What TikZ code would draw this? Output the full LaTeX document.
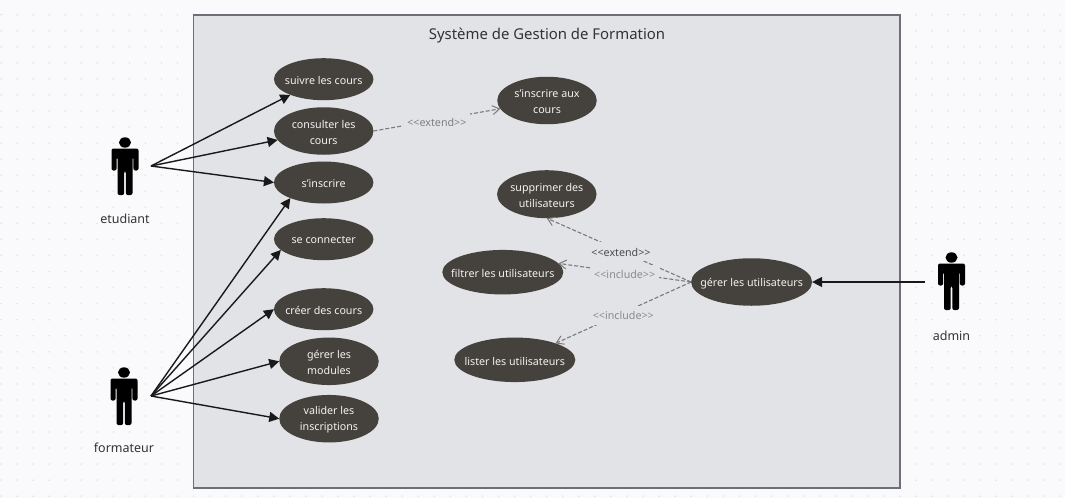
\documentclass[tikz,border=0pt]{standalone}
\usepackage{fontspec}
\setmainfont{Noto Sans}
\usetikzlibrary{shapes.geometric,arrows.meta}
\definecolor{pagebg}{HTML}{FAFAFD}
\definecolor{dotc}{HTML}{E6E6EA}
\definecolor{sysbg}{HTML}{E2E3E6}
\definecolor{sysline}{HTML}{6E6E78}
\definecolor{usecase}{HTML}{45413C}
\definecolor{dashc}{HTML}{7A7A7A}
\definecolor{inkc}{HTML}{333333}
\tikzset{
  x=1pt,y=-1pt,
  uc/.style={ellipse,fill=usecase,inner sep=0pt,outer sep=0pt},
  uctext/.style={text=white!95!black,font=\fontsize{10.7}{16}\selectfont,align=center,inner sep=0pt,yshift=-1.3pt},
  actorlabel/.style={font=\fontsize{12.5}{15}\selectfont,text=inkc},
  assoc/.style={draw=black!90,line width=1.4pt,-{Triangle[length=10pt,width=10pt]}},
  dep/.style={draw=dashc,line width=1.1pt,dash pattern=on 4pt off 2pt,-{Straight Barb[length=7pt,width=9pt,line width=1pt]}},
  deplabel/.style={fill=sysbg,font=\fontsize{10.7}{12}\selectfont,text=#1,inner xsep=4pt,inner ysep=0pt,minimum height=19pt},
  deplabel/.default=black!45,
  actor/.pic={
    \fill[black] (0,-23.5) circle[x radius=6pt,y radius=5.2pt];
    \fill[black,rounded corners=2pt] (-13.5,-17.5) -- (13.5,-17.5) -- (13.5,4.5) -- (8.4,4.5) -- (8.4,-9) -- (7.5,-9) -- (7.5,29) -- (0.8,29) -- (0.8,5) -- (-0.8,5) -- (-0.8,29) -- (-7.5,29) -- (-7.5,-9) -- (-8.4,-9) -- (-8.4,4.5) -- (-13.5,4.5) -- cycle;
  }
}
\newcommand{\usecasenode}[6]{\node[uc,minimum width=#4,minimum height=#5,label={[uctext]center:{#6}}] (#1) at (#2,#3) {};}
\begin{document}
\begin{tikzpicture}
\useasboundingbox (0,0) rectangle (1065,498);
\fill[pagebg] (0,0) rectangle (1065,498);
\foreach \i in {0,...,66}{\foreach \j in {0,...,30}{
  \fill[dotc] ({1+16.05*\i},{14.7+16.05*\j}) circle[radius=1pt];}}
\draw[fill=sysbg,draw=sysline,line width=1.4pt] (193.5,15) rectangle (900,488);
\node[font=\fontsize{14.9}{17}\selectfont,text=inkc] (title) at (547,36) {Système de Gestion de Formation};

\usecasenode{suivre}{323.7}{79.2}{99.5pt}{42pt}{suivre les cours}
\usecasenode{consulter}{323.7}{131}{99.5pt}{47.5pt}{consulter les\\cours}
\usecasenode{sinscrire}{323.7}{182.5}{99.5pt}{42pt}{s’inscrire}
\usecasenode{connecter}{323.7}{239.2}{99.5pt}{42pt}{se connecter}
\usecasenode{creer}{323.7}{309.2}{99.5pt}{42pt}{créer des cours}
\usecasenode{modules}{329}{361.3}{99.5pt}{47.5pt}{gérer les\\modules}
\usecasenode{valider}{329}{418.7}{99.5pt}{47.5pt}{valider les\\inscriptions}
\usecasenode{aux}{547}{100.5}{99.5pt}{47.5pt}{s’inscrire aux\\cours}
\usecasenode{supprimer}{546.8}{194.2}{99.5pt}{48pt}{supprimer des\\utilisateurs}
\usecasenode{filtrer}{502.8}{272.2}{121pt}{44.5pt}{filtrer les utilisateurs}
\usecasenode{lister}{514.8}{359.8}{121pt}{44.5pt}{lister les utilisateurs}
\usecasenode{gerer}{751.6}{282}{121pt}{47.5pt}{gérer les utilisateurs}

\pic at (125,166) {actor};
\pic at (124,396) {actor};
\pic at (951.5,281) {actor};
\coordinate (etudiant) at (151,166);
\coordinate (formateur) at (151,396);
\coordinate (adminpt) at (925,282);
\node[actorlabel] (etudiantl) at (125,218.5) {etudiant};
\node[actorlabel] (formateurl) at (124,448) {formateur};
\node[actorlabel] (adminl) at (951.5,335.5) {admin};

\foreach \t in {suivre.205,consulter.191.5,sinscrire.180} \draw[assoc] (etudiant) -- (\t);
\foreach \t in {sinscrire.205,connecter.194,creer.180,modules.180,valider.180} \draw[assoc] (formateur) -- (\t);
\draw[assoc] (adminpt) -- (gerer.0);

\draw[dep] (consulter.0) -- node[deplabel=black!50,pos=0.5,yshift=-3pt]{<{}<extend>{}>} (aux.190);
\draw[dep] (gerer.180) -- node[deplabel=black!70,pos=0.486,yshift=-1pt]{<{}<extend>{}>} (supprimer.south);
\draw[dep] (gerer.180) -- node[deplabel,pos=0.5,yshift=-1.5pt]{<{}<include>{}>} (filtrer.9);
\draw[dep] (gerer.180) -- node[deplabel,pos=0.5,yshift=-2.5pt]{<{}<include>{}>} (lister.22);
\end{tikzpicture}
\end{document}
